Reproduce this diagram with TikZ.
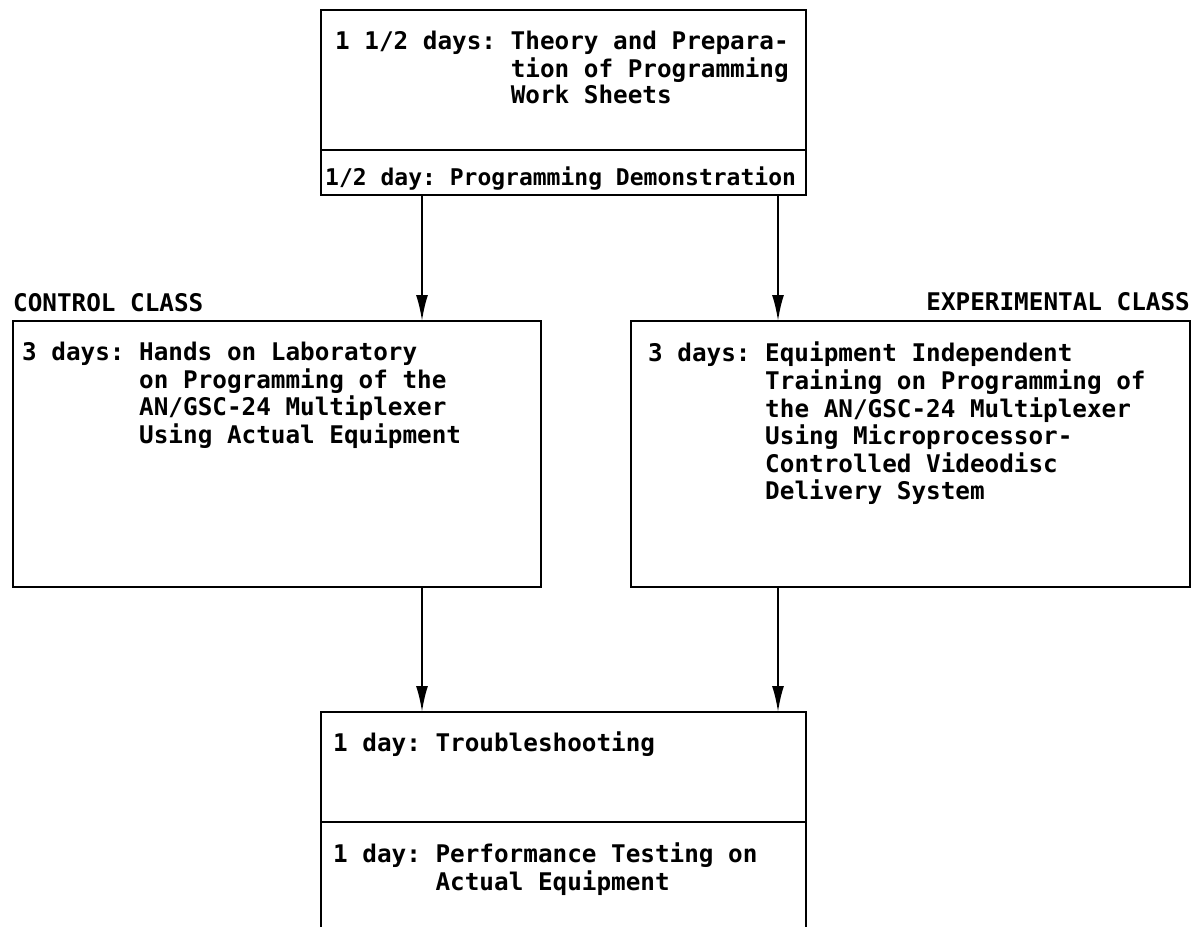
\documentclass[tikz,border=0pt]{standalone}
\usepackage{fontspec}
\setmonofont{DejaVu Sans Mono}
\usetikzlibrary{arrows.meta, positioning}

\tikzset{
  box/.style={draw, line width=2pt, anchor=north west, inner sep=0pt, outer sep=0pt},
  txt/.style={inner sep=0pt, align=left, font=\ttfamily\bfseries\fontsize{24.3}{26}\selectfont},
  arr/.style={line width=2pt, -{Latex[length=26pt,width=12pt]}},
}

\begin{document}
\begin{tikzpicture}[x=1pt, y=-1pt]
    \useasboundingbox (0,0) rectangle (1196,926);

    % boxes
    \node[box, minimum width=485pt, minimum height=140pt] (prep) at (321,10) {};
    \node[box, minimum width=485pt, minimum height=45pt] (demo) at (prep.south west) {};
    \node[box, minimum width=528pt, minimum height=266pt] (ctrl) at (13,321) {};
    \node[box, minimum width=559pt, minimum height=266pt] (expt) at (631,321) {};
    \node[box, minimum width=485pt, minimum height=110pt] (trbl) at (321,712) {};
    \node[anchor=north west, inner sep=0pt, outer sep=0pt, minimum width=485pt, minimum height=120pt] (perf) at (trbl.south west) {};
    \draw[line width=2pt] (perf.south west) -- (perf.north west) (perf.north east) -- (perf.south east);

    % texts
    \node[txt, below right=21pt and 14pt of prep.north west] (prept) {%
      \begin{tabular}{@{}l@{}l@{}}1 1/2 days:~ & Theory and Prepara-\\ & tion of Programming\\ & Work Sheets\end{tabular}};
    \node[txt, font=\ttfamily\bfseries\fontsize{23}{26}\selectfont, below right=17pt and 4pt of demo.north west] (demot) {1/2 day: Programming Demonstration};
    \node[txt, below right=21pt and 9pt of ctrl.north west] (ctrlt) {%
      \begin{tabular}{@{}l@{}l@{}}3 days:~ & Hands on Laboratory\\ & on Programming of the\\ & AN/GSC-24 Multiplexer\\ & Using Actual Equipment\end{tabular}};
    \node[txt, below right=21pt and 17pt of expt.north west] (exptt) {%
      \begin{tabular}{@{}l@{}l@{}}3 days:~ & Equipment Independent\\ & Training on Programming of\\ & the AN/GSC-24 Multiplexer\\ & Using Microprocessor-\\ & Controlled Videodisc\\ & Delivery System\end{tabular}};
    \node[txt, below right=20pt and 12pt of trbl.north west] (trblt) {1 day: Troubleshooting};
    \node[txt, below right=21pt and 12pt of perf.north west] (perft) {%
      \begin{tabular}{@{}l@{}l@{}}1 day:~ & Performance Testing on\\ & Actual Equipment\end{tabular}};

    % class labels
    \node[txt, anchor=base west] (ctrllbl) at ([yshift=10pt]ctrl.north west) {CONTROL CLASS};
    \node[txt, anchor=base east] (exptlbl) at ([yshift=11pt]expt.north east) {EXPERIMENTAL CLASS};

    % arrows
    \coordinate (la) at (422,0);
    \coordinate (ra) at (778,0);
    \draw[arr] (la |- demo.south) -- (la |- ctrl.north);
    \draw[arr] (ra |- demo.south) -- (ra |- expt.north);
    \draw[arr] (la |- ctrl.south) -- (la |- trbl.north);
    \draw[arr] (ra |- expt.south) -- (ra |- trbl.north);
\end{tikzpicture}
\end{document}
